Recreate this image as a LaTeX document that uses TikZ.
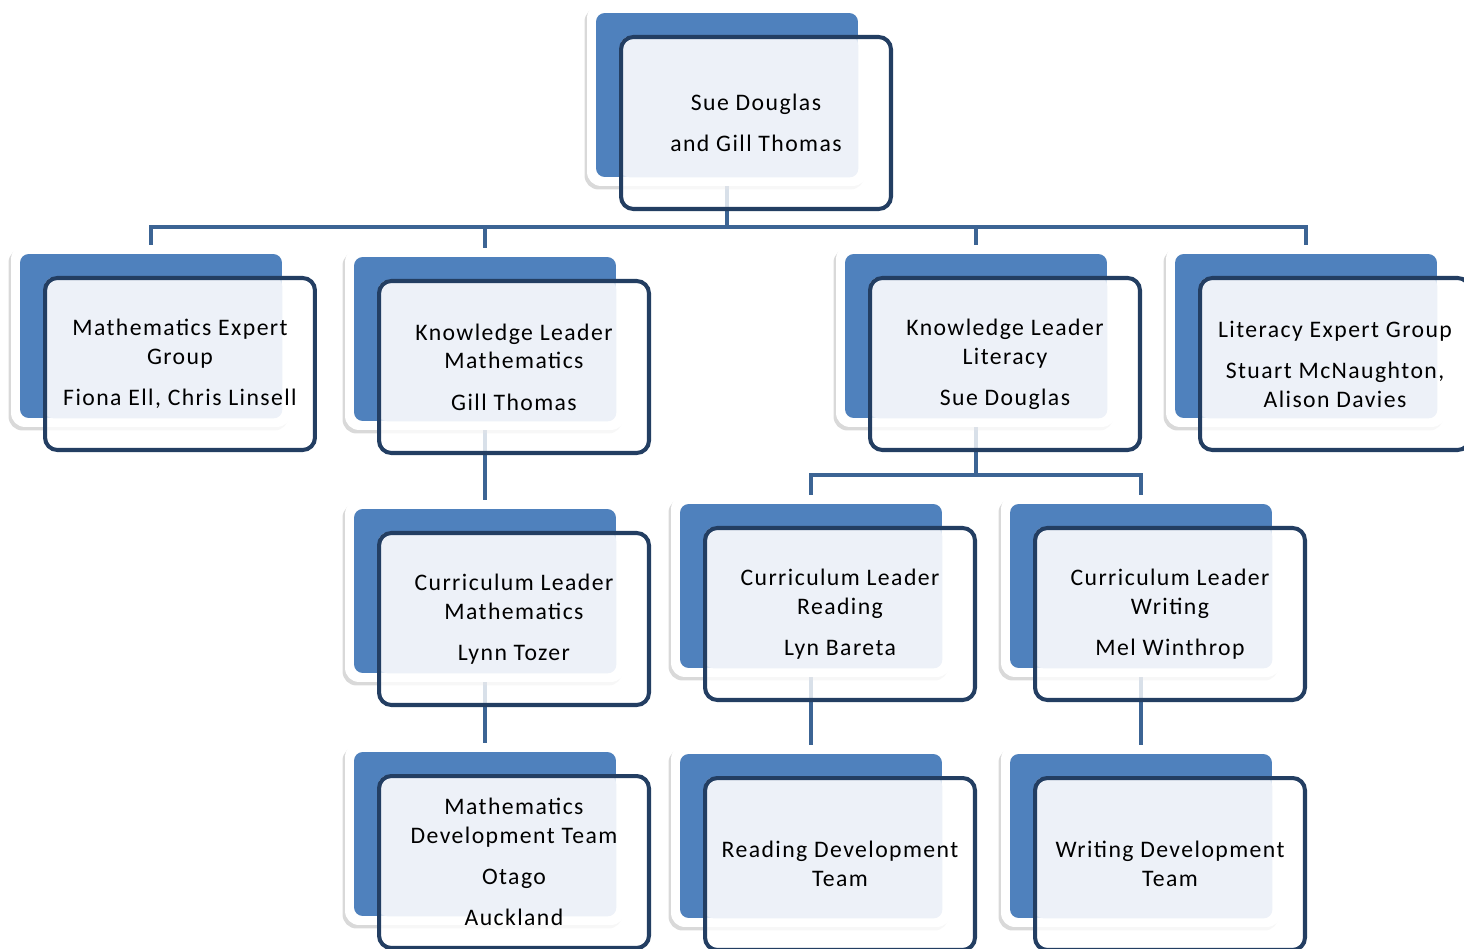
\documentclass[tikz,border=0pt]{standalone}
\usepackage{fontspec}
\setmainfont{Carlito}[LetterSpace=6]
\usetikzlibrary{shadows,backgrounds}
\definecolor{unitblue}{HTML}{4F81BD}
\definecolor{unitnavy}{HTML}{233E62}
\definecolor{unitlight}{HTML}{EDF1F8}
\definecolor{linkblue}{HTML}{3C6494}

% one unit of the chart: halo, blue card, light card, frame, text
\newcommand{\OrgUnit}[4]{%
  \node[HaloStyle] at (#2,#3) {};
  \node[BackStyle] (#1) at (#2,#3) {};
  \node[FrontStyle] (#1F) at ([shift={(29,28)}]#1.center) {};
  \fill[unitlight,rounded corners=5pt] (#1F.north west) rectangle (#1.south east);
  \node[FrameStyle] at (#1F) {};
  \node[TextStyle] at (#1F) {#4};
}

\begin{document}
\begin{tikzpicture}[x=0.02cm,y=-0.02cm]
  \tikzset{HaloStyle/.style={rectangle,rounded corners=8pt,fill=white,
             minimum width=5.6cm,minimum height=3.64cm,inner sep=0pt,
             drop shadow={shadow xshift=-0.05cm,shadow yshift=-0.07cm,opacity=0.3}},
           BackStyle/.style={rectangle,rounded corners=5pt,fill=unitblue,
             minimum width=5.24cm,minimum height=3.28cm,inner sep=0pt},
           FrontStyle/.style={rectangle,rounded corners=7pt,fill=white,fill opacity=0.8,
             minimum width=5.4cm,minimum height=3.44cm,inner sep=0pt},
           FrameStyle/.style={FrontStyle,fill=none,draw=unitnavy,line width=2.3pt},
           TextStyle/.style={align=center,inner sep=0pt,
             font=\fontsize{13.5}{16.4}\selectfont},
           LinkStyle/.style={draw=linkblue,line width=2.5pt}}
  \useasboundingbox (0,0) rectangle (1464,949);

  % top
  \OrgUnit{SD}{727}{95}{Sue Douglas\\[7pt]and Gill Thomas}

  % second row
  \OrgUnit{MEG}{151}{336}{Mathematics Expert\\Group\\[7pt]Fiona Ell, Chris Linsell}
  \OrgUnit{KLM}{485}{339}{Knowledge Leader\\Mathematics\\[7pt]Gill Thomas}
  \OrgUnit{KLL}{976}{336}{Knowledge Leader\\Literacy\\[7pt]Sue Douglas}
  \OrgUnit{LEG}{1306}{336}{Literacy Expert Group\\[7pt]Stuart McNaughton,\\Alison Davies}

  % curriculum leaders
  \OrgUnit{CLM}{485}{591}{Curriculum Leader\\Mathematics\\[7pt]Lynn Tozer}
  \OrgUnit{CLR}{811}{586}{Curriculum Leader\\Reading\\[7pt]Lyn Bareta}
  \OrgUnit{CLW}{1141}{586}{Curriculum Leader\\Writing\\[7pt]Mel Winthrop}

  % development teams
  \OrgUnit{MDT}{485}{834}{Mathematics\\Development Team\\[7pt]Otago\\[7pt]Auckland}
  \OrgUnit{RDT}{811}{836}{Reading Development\\Team}
  \OrgUnit{WDT}{1141}{836}{Writing Development\\Team}

  % links
  \begin{scope}[on background layer]
    \coordinate (topbus) at (727,227);
    \coordinate (litbus) at (976,475);
    \draw[LinkStyle] (SD.south) -- (topbus);
    \draw[LinkStyle] (MEG.north) |- (topbus);
    \draw[LinkStyle] (KLM.north) |- (topbus);
    \draw[LinkStyle] (KLL.north) |- (topbus);
    \draw[LinkStyle] (LEG.north) |- (topbus);
    \draw[LinkStyle] (KLM.south) -- (CLM.north);
    \draw[LinkStyle] (CLM.south) -- (MDT.north);
    \draw[LinkStyle] (KLL.south) -- (litbus);
    \draw[LinkStyle] (CLR.north) |- (litbus);
    \draw[LinkStyle] (CLW.north) |- (litbus);
    \draw[LinkStyle] (CLR.south) -- (RDT.north);
    \draw[LinkStyle] (CLW.south) -- (WDT.north);
  \end{scope}
\end{tikzpicture}
\end{document}
